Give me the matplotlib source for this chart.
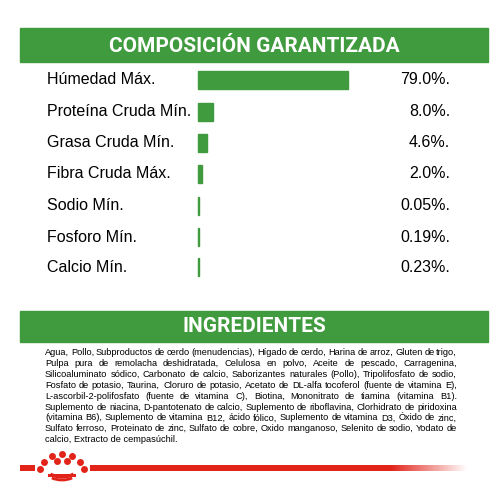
import matplotlib
matplotlib.use("Agg")
import matplotlib.pyplot as plt
import numpy as np
from matplotlib.patches import Rectangle, Arc

green = "#3f9b3d"
red = "#e2231a"

nutrients = ["Húmedad Máx.", "Proteína Cruda Mín.", "Grasa Cruda Mín.", "Fibra Cruda Máx.",
             "Sodio Mín.", "Fosforo Mín.", "Calcio Mín."]
values = [79.0, 8.0, 4.6, 2.0, 0.05, 0.19, 0.23]
value_labels = ["79.0%.", "8.0%.", "4.6%.", "2.0%.", "0.05%.", "0.19%.", "0.23%."]

ingredient_lines = [
    "Agua, Pollo, Subproductos de cerdo (menudencias), Hígado de cerdo, Harina de arroz, Gluten de trigo,",
    "Pulpa pura de remolacha deshidratada, Celulosa en polvo, Aceite de pescado, Carragenina,",
    "Silicoaluminato sódico, Carbonato de calcio, Saborizantes naturales (Pollo), Tripolifosfato de sodio,",
    "Fosfato de potasio, Taurina, Cloruro de potasio, Acetato de DL-alfa tocoferol (fuente de vitamina E),",
    "L-ascorbil-2-polifosfato (fuente de vitamina C), Biotina, Mononitrato de tiamina (vitamina B1).",
    "Suplemento de niacina, D-pantotenato de calcio, Suplemento de riboflavina, Clorhidrato de piridoxina",
    "(vitamina B6), Suplemento de vitamina B12, ácido fólico, Suplemento de vitamina D3, Óxido de zinc,",
    "Sulfato ferroso, Proteinato de zinc, Sulfato de cobre, Oxido manganoso, Selenito de sodio, Yodato de",
    "calcio, Extracto de cempasúchil.",
]

fig = plt.figure(figsize=(5, 5), dpi=100)
ax = fig.add_axes([0, 0, 1, 1])
ax.set_xlim(0, 500)
ax.set_ylim(500, 0)
ax.axis("off")

# header bars
ax.add_patch(Rectangle((20, 28), 468, 34, color=green))
ax.text(254, 46, "COMPOSICIÓN GARANTIZADA", color="white", fontsize=15,
        fontweight="bold", ha="center", va="center", family="Roboto")
ax.add_patch(Rectangle((20, 311), 468, 31, color=green))
ax.text(254, 327, "INGREDIENTES", color="white", fontsize=15,
        fontweight="bold", ha="center", va="center", family="Roboto")

# nutrient rows
bar_x0 = 198
scale = 150 / 79.0
row_y = [80, 111.5, 142.5, 174, 205.5, 237, 267]
for name, v, lab, y in zip(nutrients, values, value_labels, row_y):
    ax.text(47, y, name, fontsize=11.5, va="center", ha="left", family="Liberation Sans")
    w = max(v * scale, 1.2)
    ax.add_patch(Rectangle((bar_x0, y - 9), w, 18, color=green))
    ax.text(450, y, lab, fontsize=11.5, va="center", ha="right", family="Liberation Sans")

# justified ingredient text
fig.canvas.draw()
r = fig.canvas.get_renderer()
left, right = 45, 457
fs = 6.7
for i, line in enumerate(ingredient_lines):
    y = 355 + i * 10.9
    words = line.split(" ")
    if i == len(ingredient_lines) - 1:
        ax.text(left, y, line, fontsize=fs, va="baseline", ha="left", family="Liberation Sans")
        continue
    arts = [ax.text(0, y, w, fontsize=fs, va="baseline", ha="left", family="Liberation Sans") for w in words]
    widths = [a.get_window_extent(r).width for a in arts]  # pixels == data units here
    gap = (right - left - sum(widths)) / (len(words) - 1)
    x = left
    for a, w in zip(arts, widths):
        a.set_x(x)
        x += w + gap

# red line with fade
ax.add_patch(Rectangle((20, 465), 15, 6, color=red, lw=0))
ax.add_patch(Rectangle((90, 465), 300, 6, color=red, lw=0))
for k in range(38):
    ax.add_patch(Rectangle((390 + k * 2, 465), 2.05, 6, color=red, alpha=1 - k / 38, lw=0))

# logo
dots = [(52, 456), (62, 454), (72, 456),
        (44, 462), (57, 461), (67, 461), (80, 462),
        (40, 469), (84, 469)]
for dx, dy in dots:
    ax.plot(dx, dy, "o", color=red, markersize=5, mec="none")
ax.add_patch(Arc((62, 466), 34, 22, theta1=35, theta2=145, color=red, lw=2.4))
ax.add_patch(Arc((62, 472), 30, 16, theta1=30, theta2=150, color=red, lw=2.0))
ax.add_patch(Rectangle((48, 474), 28, 3, color=red, lw=0))

fig.savefig("out.png", dpi=100)
